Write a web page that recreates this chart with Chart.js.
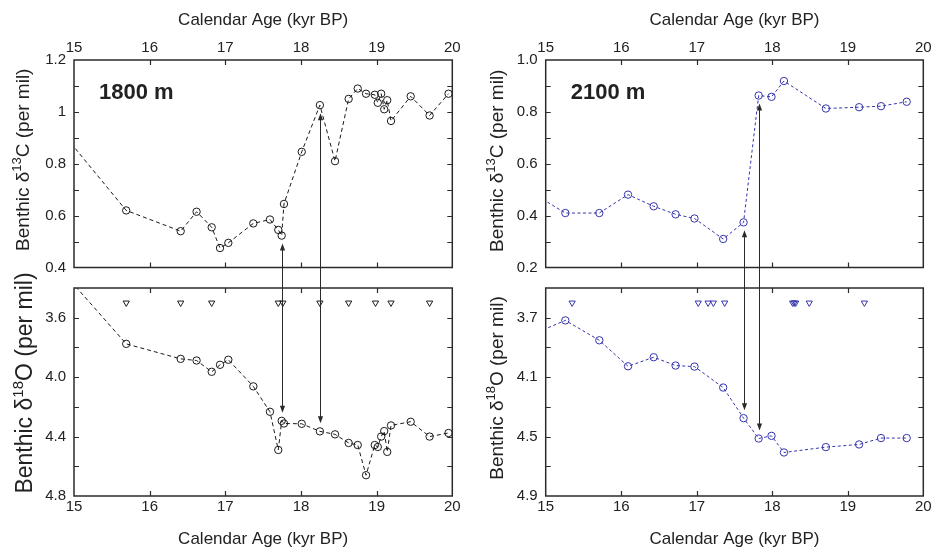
<!DOCTYPE html>
<html>
<head>
<meta charset="utf-8">
<title>Benthic d13C / d18O, 1800 m and 2100 m</title>
<script src="https://cdn.jsdelivr.net/npm/chart.js@4.4.1/dist/chart.umd.min.js"></script>
<style>
  html, body { margin: 0; padding: 0; background: #fff; }
  #wrap { position: relative; width: 933px; height: 550px; overflow: hidden; }
  #wrap canvas { position: absolute; }
</style>
</head>
<body>
<div id="wrap">
  <!-- lower canvases overlap the upper ones a little (transparent) so the tall y title fits -->
  <canvas id="c13Left" width="466" height="278" style="left:0;top:0"></canvas>
  <canvas id="o18Left" width="466" height="284" style="left:0;top:266px"></canvas>
  <canvas id="c13Right" width="467" height="278" style="left:466px;top:0"></canvas>
  <canvas id="o18Right" width="467" height="284" style="left:466px;top:266px"></canvas>
  <canvas id="arrows" width="933" height="550" style="left:0;top:0;pointer-events:none"></canvas>
</div>
<script>
// ---- data (ages in kyr BP; first age sits just outside the 15 kyr edge so the line runs off the frame)
const ages1800 = [14.9, 15.69, 16.41, 16.62, 16.82, 16.93, 17.04, 17.37, 17.59, 17.70, 17.745, 17.775, 18.01, 18.25, 18.45, 18.63, 18.75, 18.86, 18.975, 19.015, 19.06, 19.10, 19.14, 19.19, 19.45, 19.70, 19.95];
const d13c1800 = [0.90, 0.62, 0.54, 0.615, 0.555, 0.475, 0.495, 0.57, 0.585, 0.545, 0.523, 0.645, 0.846, 1.026, 0.81, 1.05, 1.09, 1.07, 1.066, 1.035, 1.07, 1.01, 1.045, 0.965, 1.06, 0.986, 1.07];
const d18o1800 = [3.32, 3.776, 3.877, 3.888, 3.964, 3.917, 3.883, 4.062, 4.233, 4.49, 4.294, 4.312, 4.314, 4.365, 4.385, 4.443, 4.457, 4.66, 4.457, 4.47, 4.40, 4.363, 4.503, 4.325, 4.30, 4.40, 4.376];

const ages2100 = [14.9, 15.26, 15.71, 16.09, 16.43, 16.72, 16.97, 17.35, 17.62, 17.82, 17.99, 18.155, 18.71, 19.15, 19.44, 19.78];
const d13c2100 = [0.474, 0.41, 0.41, 0.481, 0.436, 0.405, 0.389, 0.31, 0.374, 0.863, 0.858, 0.919, 0.813, 0.818, 0.822, 0.839];
const d18o2100 = [3.796, 3.718, 3.852, 4.027, 3.966, 4.022, 4.029, 4.17, 4.376, 4.513, 4.495, 4.607, 4.571, 4.553, 4.51, 4.51];

// age control points (open triangles along the top of the d18O panels)
const dated1800 = [15.69, 16.41, 16.82, 17.70, 17.76, 18.25, 18.63, 18.985, 19.19, 19.70];
const datedLevel1800 = 3.5;
const dated2100 = [15.35, 17.02, 17.15, 17.22, 17.37, 18.27, 18.29, 18.31, 18.49, 19.22];
const datedLevel2100 = 3.6;

// ages where a double arrow ties the d13C step to the d18O record
const links1800 = [17.745, 18.25];
const links2100 = [17.62, 17.82];

// ---- ticks
const ageTicks = [15, 16, 17, 18, 19, 20];
const ageTickLabels = ['15', '16', '17', '18', '19', '20'];
const c13LeftTicks = [0.4, 0.5, 0.6, 0.7, 0.8, 0.9, 1.0, 1.1, 1.2];
const c13LeftLabels = ['0.4', '', '0.6', '', '0.8', '', '1', '', '1.2'];
const o18LeftTicks = [3.4, 3.6, 3.8, 4.0, 4.2, 4.4, 4.6, 4.8];
const o18LeftLabels = ['', '3.6', '', '4.0', '', '4.4', '', '4.8'];
const c13RightTicks = [0.2, 0.3, 0.4, 0.5, 0.6, 0.7, 0.8, 0.9, 1.0];
const c13RightLabels = ['0.2', '', '0.4', '', '0.6', '', '0.8', '', '1.0'];
const o18RightTicks = [3.5, 3.7, 3.9, 4.1, 4.3, 4.5, 4.7, 4.9];
const o18RightLabels = ['', '3.7', '', '4.1', '', '4.5', '', '4.9'];

const fontFamily = '"Liberation Sans", Arial, Helvetica, sans-serif';
const textColor = '#222';
const frameColor = '#2b2b2b';
const blackSeries = '#1a1a1a';
const blueSeries = '#3434ac';

Chart.defaults.font.family = fontFamily;
Chart.defaults.color = textColor;

const pts = (xs, ys) => xs.map((x, i) => ({ x, y: ys[i] }));

// frame, inward tick marks, y title with superscript, depth label
const panelDecor = {
  id: 'panelDecor',
  afterDraw(chart, args, opts) {
    const { ctx, chartArea: a, scales } = chart;
    ctx.save();
    ctx.strokeStyle = frameColor;
    ctx.lineWidth = 1.2;
    ctx.beginPath();
    scales.x.ticks.forEach((t) => {
      const px = Math.round(scales.x.getPixelForValue(t.value)) + 0.5;
      if (px <= a.left + 2 || px >= a.right - 2) return;
      ctx.moveTo(px, a.top); ctx.lineTo(px, a.top + 5);
      ctx.moveTo(px, a.bottom); ctx.lineTo(px, a.bottom - 5);
    });
    scales.y.ticks.forEach((t) => {
      const py = Math.round(scales.y.getPixelForValue(t.value)) + 0.5;
      if (py <= a.top + 2 || py >= a.bottom - 2) return;
      ctx.moveTo(a.left, py); ctx.lineTo(a.left + 5, py);
      ctx.moveTo(a.right, py); ctx.lineTo(a.right - 5, py);
    });
    ctx.stroke();
    ctx.lineWidth = 1.5;
    ctx.strokeRect(a.left, a.top, a.right - a.left, a.bottom - a.top);

    const t = opts.yTitle;
    if (t) {
      const big = `${t.size}px ${fontFamily}`;
      const small = `${Math.round(t.size * 0.66)}px ${fontFamily}`;
      ctx.fillStyle = textColor;
      ctx.textBaseline = 'alphabetic';
      ctx.translate(a.left - t.offset, (a.top + a.bottom) / 2 - t.shift);
      ctx.rotate(-Math.PI / 2);
      ctx.font = big;
      const w1 = ctx.measureText(t.pre).width;
      const w3 = ctx.measureText(t.post).width;
      ctx.font = small;
      const w2 = ctx.measureText(t.sup).width;
      let x = -(w1 + w2 + w3) / 2;
      const base = t.size * 0.36;
      ctx.font = big;
      ctx.fillText(t.pre, x, base);
      x += w1;
      ctx.font = small;
      ctx.fillText(t.sup, x, base - t.size * 0.4);
      x += w2;
      ctx.font = big;
      ctx.fillText(t.post, x, base);
      ctx.setTransform(1, 0, 0, 1, 0, 0);
    }
    if (opts.depth) {
      ctx.fillStyle = textColor;
      ctx.font = `bold 22px ${fontFamily}`;
      ctx.textBaseline = 'middle';
      ctx.textAlign = 'left';
      ctx.fillText(opts.depth, a.left + 25, a.top + 33);
    }
    ctx.restore();
  },
};

function makePanel(id, cfg) {
  return new Chart(document.getElementById(id), {
    type: 'scatter',
    data: { datasets: cfg.datasets },
    options: {
      responsive: false,
      animation: false,
      events: [],
      layout: { padding: cfg.padding },
      plugins: { legend: { display: false }, tooltip: { enabled: false }, panelDecor: cfg.decor },
      scales: {
        x: {
          type: 'linear',
          position: cfg.xPos,
          min: 15,
          max: 20,
          afterBuildTicks: (s) => { s.ticks = ageTicks.map((v) => ({ value: v })); },
          afterFit: (s) => { s.height = cfg.xHeight; },
          // tick marks are drawn inward by panelDecor; tickLength only sets the label gap here
          grid: { display: false, drawTicks: true, tickLength: cfg.xTickGap },
          border: { display: false },
          ticks: {
            autoSkip: false, maxRotation: 0, padding: 0,
            font: { size: 15 }, color: textColor,
            callback: (v, i) => ageTickLabels[i],
          },
          title: {
            display: true, text: 'Calendar Age (kyr BP)',
            font: { size: 17 }, color: textColor, padding: cfg.xTitlePad,
          },
        },
        y: {
          type: 'linear',
          min: cfg.yTicks[0],
          max: cfg.yTicks[cfg.yTicks.length - 1],
          reverse: !!cfg.reverse,
          afterBuildTicks: (s) => { s.ticks = cfg.yTicks.map((v) => ({ value: v })); },
          afterFit: (s) => { s.width = cfg.yWidth; },
          grid: { display: false, drawTicks: true, tickLength: 8 },
          border: { display: false },
          ticks: {
            autoSkip: false, padding: 0,
            font: { size: 15 }, color: textColor,
            callback: (v, i) => cfg.yLabels[i],
          },
        },
      },
    },
    plugins: [panelDecor],
  });
}

function seriesSet(data, color, dash) {
  return {
    data, showLine: true, borderColor: color, borderWidth: 1, borderDash: dash,
    pointStyle: 'circle', pointRadius: 3.7, pointBorderWidth: 1,
    pointBorderColor: color, pointBackgroundColor: 'rgba(0,0,0,0)',
  };
}
function datedSet(data, color) {
  return {
    data, showLine: false, pointStyle: 'triangle', rotation: 180, pointRadius: 3.6,
    pointBorderWidth: 1, pointBorderColor: color, pointBackgroundColor: 'rgba(0,0,0,0)',
  };
}

const chartC13Left = makePanel('c13Left', {
  datasets: [seriesSet(pts(ages1800, d13c1800), blackSeries, [4, 3])],
  xPos: 'top', xHeight: 60, xTickGap: 3, xTitlePad: { top: 10, bottom: 0 },
  padding: { left: 0, right: 13.7, top: 0, bottom: 10.5 }, yWidth: 74,
  yTicks: c13LeftTicks, yLabels: c13LeftLabels,
  decor: { depth: '1800 m', yTitle: { pre: 'Benthic δ', sup: '13', post: 'C (per mil)', size: 19, offset: 52, shift: 4 } },
});
const chartO18Left = makePanel('o18Left', {
  datasets: [
    seriesSet(pts(ages1800, d18o1800), blackSeries, [4, 3]),
    datedSet(dated1800.map((x) => ({ x, y: datedLevel1800 })), blackSeries),
  ],
  xPos: 'bottom', xHeight: 54, xTickGap: 2, xTitlePad: { top: 0, bottom: 0 },
  padding: { left: 0, right: 13.7, top: 22, bottom: 0 }, yWidth: 74, reverse: true,
  yTicks: o18LeftTicks, yLabels: o18LeftLabels,
  decor: { yTitle: { pre: 'Benthic δ', sup: '18', post: 'O (per mil)', size: 23, offset: 50, shift: 9 } },
});
const chartC13Right = makePanel('c13Right', {
  datasets: [seriesSet(pts(ages2100, d13c2100), blueSeries, [3, 2.5])],
  xPos: 'top', xHeight: 60, xTickGap: 3, xTitlePad: { top: 10, bottom: 0 },
  padding: { left: 0, right: 9.7, top: 0, bottom: 10.5 }, yWidth: 79.7,
  yTicks: c13RightTicks, yLabels: c13RightLabels,
  decor: { depth: '2100 m', yTitle: { pre: 'Benthic δ', sup: '13', post: 'C (per mil)', size: 19, offset: 50, shift: 3 } },
});
const chartO18Right = makePanel('o18Right', {
  datasets: [
    seriesSet(pts(ages2100, d18o2100), blueSeries, [3, 2.5]),
    datedSet(dated2100.map((x) => ({ x, y: datedLevel2100 })), blueSeries),
  ],
  xPos: 'bottom', xHeight: 54, xTickGap: 2, xTitlePad: { top: 0, bottom: 0 },
  padding: { left: 0, right: 9.7, top: 22, bottom: 0 }, yWidth: 79.7, reverse: true,
  yTicks: o18RightTicks, yLabels: o18RightLabels,
  decor: { yTitle: { pre: 'Benthic δ', sup: '18', post: 'O (per mil)', size: 19, offset: 50, shift: 4 } },
});

// double arrows spanning both panels of a column, placed from the data through each chart's scales
function drawLinks(ctx, topChart, botChart, ages, c13, o18, links) {
  const topCv = topChart.canvas;
  const botCv = botChart.canvas;
  const gap = 8;
  links.forEach((age) => {
    const i = ages.indexOf(age);
    const x = Math.round(topCv.offsetLeft + topChart.scales.x.getPixelForValue(age)) + 0.5;
    const y1 = topCv.offsetTop + topChart.scales.y.getPixelForValue(c13[i]) + gap;
    const y2 = botCv.offsetTop + botChart.scales.y.getPixelForValue(o18[i]) - gap;
    ctx.beginPath();
    ctx.moveTo(x, y1 + 5);
    ctx.lineTo(x, y2 - 5);
    ctx.stroke();
    ctx.beginPath();
    ctx.moveTo(x, y1); ctx.lineTo(x - 2.6, y1 + 7); ctx.lineTo(x + 2.6, y1 + 7); ctx.closePath();
    ctx.moveTo(x, y2); ctx.lineTo(x - 2.6, y2 - 7); ctx.lineTo(x + 2.6, y2 - 7); ctx.closePath();
    ctx.fill();
  });
}

function drawArrows() {
  const cv = document.getElementById('arrows');
  const ctx = cv.getContext('2d');
  ctx.clearRect(0, 0, cv.width, cv.height);
  ctx.strokeStyle = '#2a2a2a';
  ctx.fillStyle = '#2a2a2a';
  ctx.lineWidth = 1;
  drawLinks(ctx, chartC13Left, chartO18Left, ages1800, d13c1800, d18o1800, links1800);
  drawLinks(ctx, chartC13Right, chartO18Right, ages2100, d13c2100, d18o2100, links2100);
}
drawArrows();
</script>
</body>
</html>
